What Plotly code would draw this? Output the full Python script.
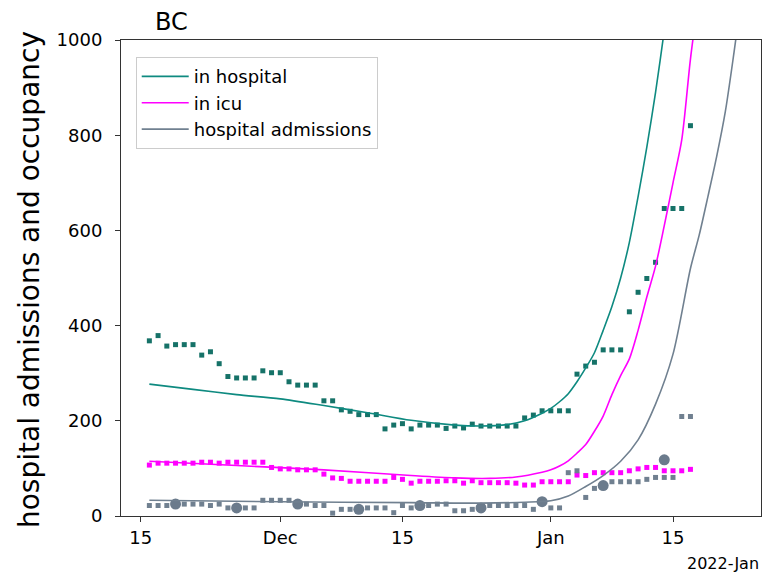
import pandas as pd
import plotly.graph_objects as go

# ---------------- data ----------------
days = pd.date_range("2021-11-16", "2022-01-17", freq="D")

in_hospital = [368, 379, 357, 360, 360, 360, 338, 345, 320, 293, 290, 290, 290, 305, 301,
               301, 282, 275, 275, 275, 242, 242, 223, 220, 213, 213, 213, 183, 191, 194, 183,
               191, 191, 191, 184, 189, 185, 193, 189, 189, 189, 189, 189, 206, 212, 221,
               221, 221, 221, 298, 315, 323, 349, 349, 349, 429, 470, 499, 533, 646, 646, 646, 820]

in_icu = [107, 111, 111, 111, 111, 111, 113, 113, 111, 113, 113, 113, 113, 113, 102,
          99, 99, 97, 97, 97, 88, 80, 79, 73, 73, 73, 73, 73, 81, 77, 69,
          73, 73, 73, 74, 74, 69, 74, 70, 70, 70, 70, 69, 65, 65, 72,
          72, 72, 72, 86, 85, 91, 91, 91, 91, 95, 99, 102, 102, 95, 95, 95, 98]

admissions = [22, 22, 22, 25, 25, 25, 25, 22, 25, 17, 17, 17, 17, 33, 33,
              33, 33, 25, 25, 22, 22, 6, 14, 14, 14, 17, 17, 17, 7, 22, 17,
              22, 22, 25, 25, 11, 11, 14, 17, 22, 22, 22, 22, 22, 14, 30,
              17, 17, 91, 95, 39, 58, 65, 72, 72, 72, 72, 77, 81, 81, 81, 209, 209]

weekly_dates = ["2021-11-19", "2021-11-26", "2021-12-03", "2021-12-10", "2021-12-17",
                "2021-12-24", "2021-12-31", "2022-01-07", "2022-01-14"]
weekly_admissions = [25, 17, 25, 14, 22, 17, 30, 64, 118]

hosp_fit_dates = ["2021-11-16", "2021-11-21", "2021-11-26", "2021-12-01", "2021-12-06",
                  "2021-12-11", "2021-12-16", "2021-12-21", "2021-12-24", "2021-12-27",
                  "2021-12-29", "2021-12-31", "2022-01-01", "2022-01-02", "2022-01-03",
                  "2022-01-04", "2022-01-05", "2022-01-06", "2022-01-07", "2022-01-08",
                  "2022-01-09", "2022-01-10", "2022-01-11", "2022-01-12", "2022-01-13",
                  "2022-01-14", "2022-01-15"]
hosp_fit = [277, 266, 255, 246, 232, 217, 201, 191, 189, 192, 200, 216, 226, 240, 257,
            282, 311, 343, 390, 440, 500, 575, 671, 775, 890, 1020, 1160]

icu_fit_dates = ["2021-11-16", "2021-11-26", "2021-12-06", "2021-12-16", "2021-12-21",
                 "2021-12-25", "2021-12-28", "2021-12-31", "2022-01-01", "2022-01-02",
                 "2022-01-03", "2022-01-04", "2022-01-05", "2022-01-06", "2022-01-07",
                 "2022-01-08", "2022-01-09", "2022-01-10", "2022-01-11", "2022-01-12",
                 "2022-01-13", "2022-01-14", "2022-01-15", "2022-01-16", "2022-01-17",
                 "2022-01-18"]
icu_fit = [115, 106, 97, 85, 80, 79, 82, 92, 97, 105, 116, 132, 150, 178, 210,
           255, 295, 330, 390, 460, 525, 610, 700, 790, 960, 1100]

adm_fit_dates = ["2021-11-16", "2021-12-01", "2021-12-16", "2021-12-24", "2021-12-29",
                 "2022-01-01", "2022-01-03", "2022-01-05", "2022-01-07", "2022-01-09",
                 "2022-01-11", "2022-01-13", "2022-01-15", "2022-01-17", "2022-01-18",
                 "2022-01-19", "2022-01-20", "2022-01-21", "2022-01-22", "2022-01-23"]
adm_fit = [33, 30, 28, 27, 29, 32, 42, 62, 85, 115, 160, 235, 340, 520, 590,
           671, 755, 850, 975, 1110]

x_tick_vals = ["2021-11-15", "2021-12-01", "2021-12-15", "2022-01-01", "2022-01-15"]
x_tick_text = ["15", "Dec", "15", "Jan", "15"]
y_tick_vals = [0, 200, 400, 600, 800, 1000]

# ---------------- style ----------------
TEAL = "#0e8a80"
TEAL_PT = "#167268"
MAG = "#ff00ff"
GREY = "#708090"
FONT = "DejaVu Sans"

fig = go.Figure()

fig.add_trace(go.Scatter(x=days, y=in_hospital, mode="markers", showlegend=False,
                         marker=dict(symbol="square", size=5, color=TEAL_PT)))
fig.add_trace(go.Scatter(x=days, y=in_icu, mode="markers", showlegend=False,
                         marker=dict(symbol="square", size=5, color=MAG)))
fig.add_trace(go.Scatter(x=days, y=admissions, mode="markers", showlegend=False,
                         marker=dict(symbol="square", size=5, color=GREY)))
fig.add_trace(go.Scatter(x=weekly_dates, y=weekly_admissions, mode="markers", showlegend=False,
                         marker=dict(symbol="circle", size=11, color="#6b7b8c")))

fig.add_trace(go.Scatter(x=hosp_fit_dates, y=hosp_fit, mode="lines", name="in hospital",
                         line=dict(color=TEAL, width=1.6, shape="spline", smoothing=0.8)))
fig.add_trace(go.Scatter(x=icu_fit_dates, y=icu_fit, mode="lines", name="in icu",
                         line=dict(color=MAG, width=1.6, shape="spline", smoothing=0.8)))
fig.add_trace(go.Scatter(x=adm_fit_dates, y=adm_fit, mode="lines", name="hospital admissions",
                         line=dict(color=GREY, width=1.6, shape="spline", smoothing=0.8)))

fig.update_layout(
    width=763, height=574,
    margin=dict(l=121, r=2, t=40, b=58),
    paper_bgcolor="white", plot_bgcolor="white",
    font=dict(family=FONT, color="#000000", size=17),
    legend=dict(x=0.023, y=0.964, xanchor="left", yanchor="top",
                bordercolor="#cccccc", borderwidth=1, bgcolor="white",
                itemwidth=47,
                font=dict(family=FONT, size=18)),
    xaxis=dict(type="date", range=["2021-11-12 18:00", "2022-01-25 02:00"],
               tickvals=x_tick_vals, ticktext=x_tick_text,
               showgrid=False, zeroline=False, showline=True, mirror=True,
               linecolor="#333333", linewidth=1, ticks="outside", ticklen=5,
               tickcolor="#333333", tickfont=dict(size=18)),
    yaxis=dict(range=[0, 1000], tickvals=y_tick_vals,
               showgrid=False, zeroline=False, showline=True, mirror=True,
               linecolor="#333333", linewidth=1, ticks="outside", ticklen=5,
               tickcolor="#333333", tickfont=dict(size=18), ticklabelstandoff=9),
    annotations=[
        dict(text="BC", xref="paper", yref="paper", x=0.05, y=1.038,
             xanchor="left", yanchor="middle", showarrow=False,
             font=dict(family=FONT, size=24)),
        dict(text="hospital admissions and occupancy", xref="paper", yref="paper",
             x=-0.142, y=0.496, xanchor="center", yanchor="middle", textangle=-90,
             showarrow=False, font=dict(family=FONT, size=28)),
        dict(text="2022-Jan", xref="paper", yref="paper", x=1.0, y=-0.099,
             xanchor="right", yanchor="middle", showarrow=False,
             font=dict(family=FONT, size=16)),
    ],
)

fig.write_html("out.html")
